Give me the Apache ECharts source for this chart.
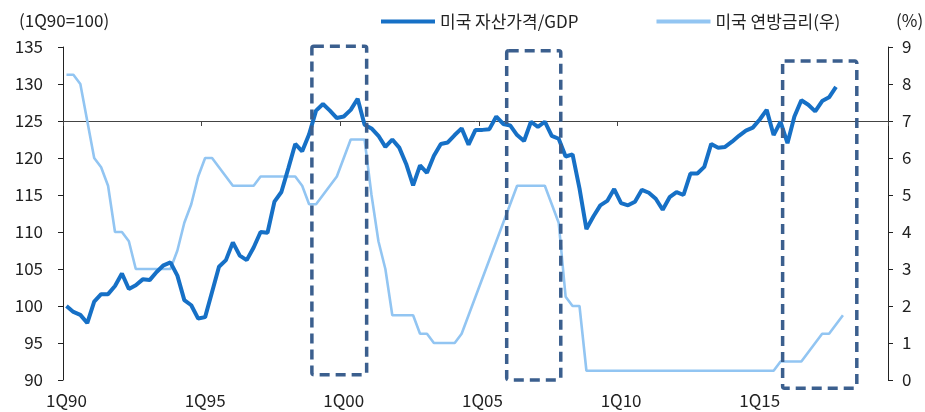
<!DOCTYPE html>
<html><head><meta charset="utf-8">
<script src="https://cdn.jsdelivr.net/npm/echarts@6/dist/echarts.min.js"></script>
<style>html,body{margin:0;padding:0;background:#fff}#c{width:925px;height:412px}</style>
</head><body><div id="c"></div>
<script>
// ---- data ----
const startYear = 1990;
const quarterCount = 119;
const categories = [];
for (let i = 0; i < quarterCount; i++) {
  const y = startYear + Math.floor(i / 4);
  categories.push((i % 4 + 1) + 'Q' + String(y % 100).padStart(2, '0'));
}
const seriesNames = ['미국 자산가격/GDP', '미국 연방금리(우)'];
const assetToGdp = [
  100, 99.2, 98.8, 97.7, 100.6, 101.6, 101.6, 102.7, 104.4, 102.3,
  102.8, 103.6, 103.5, 104.6, 105.5, 105.9, 104.1, 100.8, 100.1, 98.3,
  98.5, 101.9, 105.3, 106.2, 108.6, 106.8, 106.2, 107.9, 110.0, 109.9,
  114.1, 115.4, 118.6, 121.9, 120.9, 123.2, 126.4, 127.3, 126.4, 125.4,
  125.6, 126.5, 128.0, 124.5, 124.0, 123.0, 121.5, 122.5, 121.4, 119.2,
  116.3, 119.0, 118.0, 120.3, 121.9, 122.1, 123.1, 124.0, 121.8, 123.8,
  123.8, 123.9, 125.6, 124.6, 124.4, 123.1, 122.3, 124.9, 124.2, 124.9,
  123.0, 122.6, 120.2, 120.5, 115.9, 110.4, 112.1, 113.6, 114.2, 115.8,
  113.9, 113.6, 114.1, 115.7, 115.3, 114.5, 113.0, 114.7, 115.4, 115.0,
  117.9, 117.9, 118.8, 121.9, 121.4, 121.5, 122.2, 123.0, 123.7, 124.1,
  125.2, 126.5, 123.1, 124.9, 122.0, 125.6, 127.8, 127.2, 126.3, 127.7,
  128.2, 129.6
];
const fedRate = [
  8.25, 8.25, 8.0, 7.0,
  6.0, 5.75, 5.25, 4.0,
  4.0, 3.75, 3.0, 3.0,
  3.0, 3.0, 3.0, 3.0,
  3.5, 4.25, 4.75, 5.5,
  6.0, 6.0, 5.75, 5.5,
  5.25, 5.25, 5.25, 5.25,
  5.5, 5.5, 5.5, 5.5,
  5.5, 5.5, 5.25, 4.75,
  4.75, 5.0, 5.25, 5.5,
  6.0, 6.5, 6.5, 6.5,
  5.0, 3.75, 3.0, 1.75,
  1.75, 1.75, 1.75, 1.25,
  1.25, 1.0, 1.0, 1.0,
  1.0, 1.25, 1.75, 2.25,
  2.75, 3.25, 3.75, 4.25,
  4.75, 5.25, 5.25, 5.25,
  5.25, 5.25, 4.75, 4.25,
  2.25, 2.0, 2.0, 0.25,
  0.25, 0.25, 0.25, 0.25,
  0.25, 0.25, 0.25, 0.25,
  0.25, 0.25, 0.25, 0.25,
  0.25, 0.25, 0.25, 0.25,
  0.25, 0.25, 0.25, 0.25,
  0.25, 0.25, 0.25, 0.25,
  0.25, 0.25, 0.25, 0.5,
  0.5, 0.5, 0.5, 0.75,
  1.0, 1.25, 1.25, 1.5,
  1.75
];
const leftAxis = { min: 90, max: 135, interval: 5, baseline: 125 };
const rightAxis = { min: 0, max: 9, interval: 1 };
const labelEvery = 20;
// highlight boxes, in quarter index / left-axis value terms
const boxes = [
  { from: 35.4, to: 43.3, top: 135.1, bottom: 90.7 },
  { from: 63.5, to: 71.3, top: 134.5, bottom: 90.0 },
  { from: 103.3, to: 114.0, top: 133.1, bottom: 88.9 }
];

// ---- chart ----
const FONT = '"Noto Sans CJK KR", "Noto Sans", sans-serif';
const TXT = '#222';
const chart = echarts.init(document.getElementById('c'), null, { renderer: 'canvas' });
const gridTop = 47, gridBottom = 32, gridH = 412 - gridTop - gridBottom;
const baseOffset = -Math.round(gridH * (leftAxis.baseline - leftAxis.min) / (leftAxis.max - leftAxis.min));

chart.setOption({
  animation: false,
  backgroundColor: '#fff',
  textStyle: { fontFamily: FONT },
  grid: { left: 63, right: 37, top: gridTop, bottom: gridBottom },
  title: [
    { text: '(1Q90=100)', left: 14, top: 7, textStyle: { fontFamily: FONT, fontSize: 17, fontWeight: 'normal', color: TXT } },
    { text: '(%)', left: 891, top: 7, textStyle: { fontFamily: FONT, fontSize: 17, fontWeight: 'normal', color: TXT } }
  ],
  legend: {
    left: 376, top: 8,
    icon: 'rect', itemWidth: 54, itemHeight: 4, itemGap: 78,
    textStyle: { fontFamily: FONT, fontSize: 17, color: TXT },
    data: seriesNames
  },
  xAxis: [
    {
      type: 'category', data: categories, boundaryGap: true,
      axisLine: { show: false }, axisTick: { show: false },
      axisLabel: { interval: labelEvery - 1, margin: 12, fontFamily: FONT, fontSize: 17, color: TXT },
      splitLine: { show: false }
    },
    {
      type: 'category', data: categories, boundaryGap: true, position: 'bottom', offset: baseOffset,
      axisLine: { show: true, lineStyle: { color: '#444', width: 1 } },
      axisTick: { show: true, interval: labelEvery - 1, length: 5, lineStyle: { color: '#444' } },
      axisLabel: { show: false }, splitLine: { show: false }
    }
  ],
  yAxis: [
    {
      type: 'value', min: leftAxis.min, max: leftAxis.max, interval: leftAxis.interval,
      axisLine: { show: true, lineStyle: { color: '#222', width: 1 } },
      axisTick: { show: true, length: 5, lineStyle: { color: '#222' } },
      axisLabel: { margin: 20, fontFamily: FONT, fontSize: 17, color: TXT },
      splitLine: { show: false }
    },
    {
      type: 'value', min: rightAxis.min, max: rightAxis.max, interval: rightAxis.interval, position: 'right',
      axisLine: { show: true, lineStyle: { color: '#222', width: 1 } },
      axisTick: { show: true, length: 5, lineStyle: { color: '#222' } },
      axisLabel: { margin: 14, fontFamily: FONT, fontSize: 17, color: TXT },
      splitLine: { show: false }
    }
  ],
  series: [
    {
      name: seriesNames[1], type: 'line', yAxisIndex: 1, data: fedRate,
      showSymbol: false, symbol: 'none', z: 2,
      lineStyle: { color: '#92C5F2', width: 2.6 }, itemStyle: { color: '#92C5F2' }
    },
    {
      name: seriesNames[0], type: 'line', yAxisIndex: 0, data: assetToGdp,
      showSymbol: false, symbol: 'none', z: 3,
      lineStyle: { color: '#1670C6', width: 4 }, itemStyle: { color: '#1670C6' }
    }
  ]
});

// dashed highlight boxes, positioned through the axes
const x0 = chart.convertToPixel({ xAxisIndex: 0 }, 0);
const x1 = chart.convertToPixel({ xAxisIndex: 0 }, 1);
const xAt = i => x0 + (x1 - x0) * i;
const yAt = v => chart.convertToPixel({ yAxisIndex: 0 }, v);
chart.setOption({
  graphic: boxes.map(b => ({
    type: 'rect', z: 100,
    shape: { x: xAt(b.from), y: yAt(b.top), width: xAt(b.to) - xAt(b.from), height: yAt(b.bottom) - yAt(b.top), r: 2 },
    style: { fill: null, stroke: '#3B5F8E', lineWidth: 3.5, lineDash: [10, 6] }
  }))
});
</script>
</body></html>
